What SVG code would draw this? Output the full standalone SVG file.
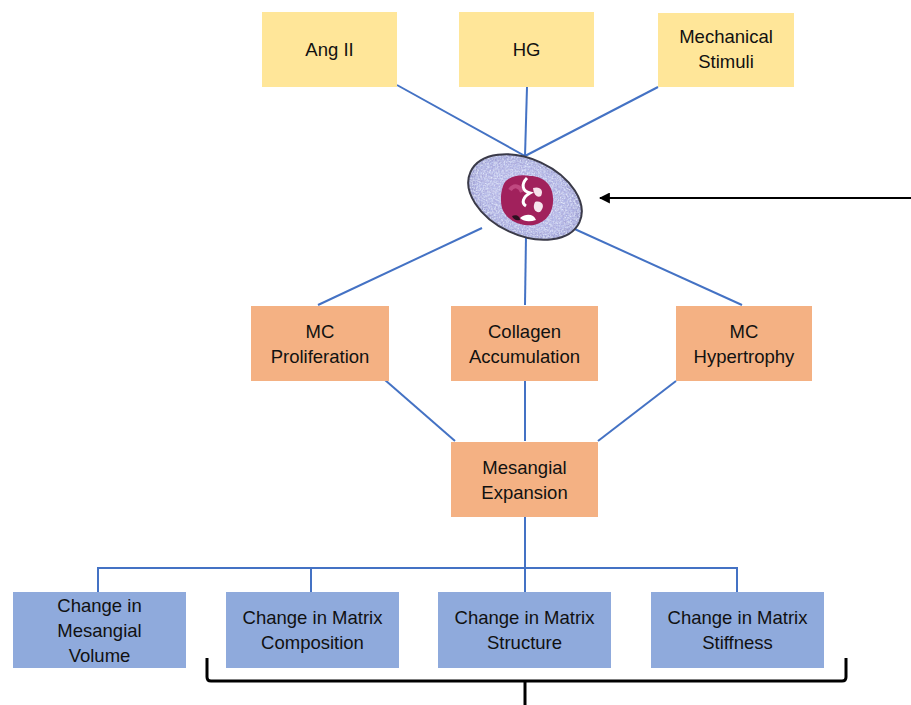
<svg xmlns="http://www.w3.org/2000/svg" width="911" height="705" viewBox="0 0 911 705">
<style>
.y{fill:#FFE699}
.o{fill:#F4B183}
.b{fill:#8FAADC}
.t{font-family:"Liberation Sans",Arial,sans-serif;font-size:18.5px;fill:#111;text-anchor:middle}
.c{stroke:#4472C4;stroke-width:2;fill:none}
.k{stroke:#000;stroke-width:3;fill:none}
</style>
<defs>
<filter id="tex" x="-10%" y="-10%" width="120%" height="120%">
<feTurbulence type="fractalNoise" baseFrequency="0.7" numOctaves="2" seed="5" result="n"/>
<feColorMatrix in="n" type="matrix" values="0 0 0 0 0.45  0 0 0 0 0.5  0 0 0 0 0.85  0 0 0 3 -1.2" result="c"/>
<feComposite in="c" in2="SourceGraphic" operator="in" result="m"/>
<feTurbulence type="fractalNoise" baseFrequency="0.8" numOctaves="2" seed="11" result="n2"/>
<feColorMatrix in="n2" type="matrix" values="0 0 0 0 0.8  0 0 0 0 0.85  0 0 0 0 0.98  0 0 0 3 -1.3" result="c2"/>
<feComposite in="c2" in2="SourceGraphic" operator="in" result="m2"/>
<feMerge><feMergeNode in="SourceGraphic"/><feMergeNode in="m"/><feMergeNode in="m2"/></feMerge>
</filter>
<radialGradient id="cg" cx="50%" cy="50%" r="50%">
<stop offset="0.5" stop-color="#B4B0E0"/>
<stop offset="0.85" stop-color="#A6A4D8"/>
<stop offset="1" stop-color="#8E8CC0"/>
</radialGradient>
<marker id="ah" viewBox="0 0 10 10" refX="9" refY="5" markerWidth="5" markerHeight="5" orient="auto-start-reverse">
<path d="M0,0 L10,5 L0,10 z" fill="#000"/>
</marker>
</defs>
<g id="connectors">
<line class="c" x1="397" y1="85" x2="525" y2="156"/>
<line class="c" x1="527" y1="87" x2="525" y2="156"/>
<line class="c" x1="658" y1="87" x2="525" y2="156"/>
<line class="c" x1="482" y1="228" x2="318" y2="305"/>
<line class="c" x1="526" y1="236" x2="525" y2="305"/>
<line class="c" x1="568" y1="226" x2="742" y2="305"/>
<line class="c" x1="385" y1="380" x2="455" y2="441"/>
<line class="c" x1="525" y1="381" x2="525" y2="441"/>
<line class="c" x1="676" y1="381" x2="598" y2="441"/>
<line class="c" x1="525" y1="517" x2="525" y2="568"/>
<polyline class="c" points="98,592 98,568 737,568 737,592"/>
<line class="c" x1="311" y1="568" x2="311" y2="592"/>
<line class="c" x1="525" y1="568" x2="525" y2="592"/>
<line x1="911" y1="198" x2="600" y2="198" stroke="#000" stroke-width="2.2" marker-end="url(#ah)"/>
<path class="k" d="M207,658 L207,677 Q207,681 211,681 L842,681 Q846,681 846,677 L846,658"/>
<line class="k" x1="525" y1="681" x2="525" y2="705"/>
</g>
<g id="cell">
<ellipse cx="525" cy="197" rx="60" ry="38" transform="rotate(25 525 197)" fill="url(#cg)" filter="url(#tex)"/>
<ellipse cx="525" cy="197" rx="60" ry="38" transform="rotate(25 525 197)" fill="none" stroke="#3a3a48" stroke-width="2"/>
<path d="M503,186 C506,176 520,174 530,176 C544,176 553,186 553,198 C554,210 548,222 534,225 C520,227 506,220 502,208 C500,200 501,192 503,186 Z" fill="#A1215C"/>
<path d="M510,190 C514,184 520,186 522,192" stroke="#C04880" stroke-width="4" fill="none"/>
<path d="M527,178 C521,184 522,191 530,193 C523,197 521,203 526,206" stroke="#fff" stroke-width="3" fill="none"/>
<path d="M533,188 C540,186 544,190 541,196 C538,198 534,196 533,188 Z" fill="#f6e0ea"/>
<path d="M535,202 C542,200 546,206 540,212 C535,213 532,208 535,202 Z" fill="#f6e6ee"/>
<path d="M520,218 C526,213 534,214 536,220 C530,222 524,222 520,218 Z" fill="#fff"/>
<path d="M512,216 C516,214 520,216 520,220 C516,221 513,219 512,216 Z" fill="#2a1020"/>
</g>
<g id="ang2"><rect class="y" x="262" y="12" width="135" height="75"/><text class="t" x="329.5" y="56">Ang II</text></g>
<g id="hg"><rect class="y" x="459" y="12" width="135" height="75"/><text class="t" x="526.5" y="56">HG</text></g>
<g id="mech"><rect class="y" x="658" y="13" width="136" height="74"/><text class="t" x="726" y="43">Mechanical</text><text class="t" x="726" y="68">Stimuli</text></g>
<g id="mcprolif"><rect class="o" x="251" y="306" width="138" height="75"/><text class="t" x="320" y="338">MC</text><text class="t" x="320" y="363">Proliferation</text></g>
<g id="collagen"><rect class="o" x="451" y="306" width="147" height="75"/><text class="t" x="524.5" y="338">Collagen</text><text class="t" x="524.5" y="363">Accumulation</text></g>
<g id="mchyper"><rect class="o" x="676" y="306" width="136" height="75"/><text class="t" x="744" y="338">MC</text><text class="t" x="744" y="363">Hypertrophy</text></g>
<g id="expansion"><rect class="o" x="451" y="442" width="147" height="75"/><text class="t" x="524.5" y="474">Mesangial</text><text class="t" x="524.5" y="499">Expansion</text></g>
<g id="volume"><rect class="b" x="13" y="592" width="173" height="76"/><text class="t" x="99.5" y="612">Change in</text><text class="t" x="99.5" y="637">Mesangial</text><text class="t" x="99.5" y="662">Volume</text></g>
<g id="composition"><rect class="b" x="226" y="592" width="173" height="76"/><text class="t" x="312.5" y="624">Change in Matrix</text><text class="t" x="312.5" y="649">Composition</text></g>
<g id="structure"><rect class="b" x="438" y="592" width="173" height="76"/><text class="t" x="524.5" y="624">Change in Matrix</text><text class="t" x="524.5" y="649">Structure</text></g>
<g id="stiffness"><rect class="b" x="651" y="592" width="173" height="76"/><text class="t" x="737.5" y="624">Change in Matrix</text><text class="t" x="737.5" y="649">Stiffness</text></g>
</svg>
